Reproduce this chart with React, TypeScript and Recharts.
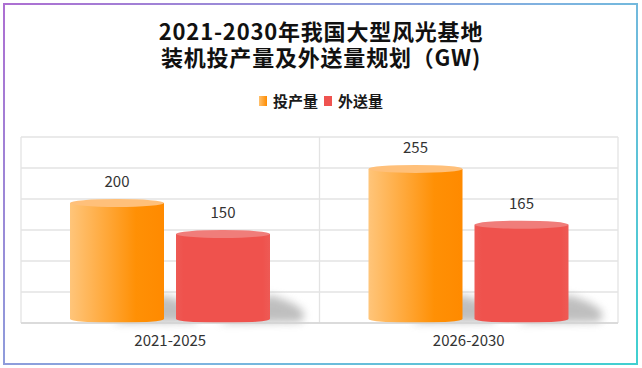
import { BarChart, Bar, XAxis, YAxis, CartesianGrid, LabelList } from 'recharts';

const categories = ['2021-2025', '2026-2030'];
const productionValues = [200, 255];
const exportValues = [150, 165];
const yTicks = [0, 50, 100, 150, 200, 250, 300];

const seriesNames = { production: '投产量', exported: '外送量' };
const titleText = '2021-2030年我国大型风光基地\n装机投产量及外送量规划（GW)';

const data = categories.map((period, i) => ({
    period,
    production: productionValues[i],
    exported: exportValues[i],
}));

const FONT = '"Microsoft YaHei", "Noto Sans CJK SC", "Noto Sans", sans-serif';

// cylinder-ish bar with a soft shadow to the lower right
function Cylinder(props: any) {
    const { x, y, width, height, fill, top } = props;
    if (!height || height <= 0) return null;
    const rx = width / 2;
    const ry = 4;
    const bottom = y + height;
    const cx = x + rx;
    return (
        <g>
            <path
                d={`M${x + width * 0.45},${bottom} L${x + width},${bottom - 28} Q${x + width + 46},${bottom - 14} ${x + width + 30},${bottom - 1} Z`}
                fill="#8a8a8a"
                opacity={0.55}
                filter="url(#shadowBlur)"
            />
            <path
                d={`M${x},${y + ry} L${x},${bottom - ry} A${rx},${ry} 0 0 0 ${x + width},${bottom - ry} L${x + width},${y + ry} Z`}
                fill={fill}
            />
            <ellipse cx={cx} cy={y + ry} rx={rx} ry={ry} fill={top} />
        </g>
    );
}

function LegendRow() {
    const items = [
        { name: seriesNames.production, swatch: 'linear-gradient(90deg, #ffc16e, #ff8c00)' },
        { name: seriesNames.exported, swatch: '#ef5350' },
    ];
    return (
        <div
            style={{
                position: 'absolute',
                left: 0,
                top: 91,
                width: 642,
                display: 'flex',
                justifyContent: 'center',
                alignItems: 'center',
                fontFamily: FONT,
            }}
        >
            {items.map((it) => (
                <div key={it.name} style={{ display: 'flex', alignItems: 'center', margin: '0 3px' }}>
                    <span style={{ display: 'inline-block', width: 8, height: 10, background: it.swatch, marginRight: 6 }} />
                    <span style={{ fontSize: 15, fontWeight: 700, color: '#1a1a1a', lineHeight: '20px' }}>{it.name}</span>
                </div>
            ))}
        </div>
    );
}

export default function App() {
    return (
        <div style={{ position: 'fixed', left: 0, top: 0, width: 642, height: 368, background: '#fff', fontFamily: FONT }}>
            <div
                style={{
                    position: 'absolute',
                    left: 3,
                    top: 3,
                    width: 631,
                    height: 358,
                    border: '2px solid',
                    borderImage: 'linear-gradient(135deg, #ad6fd2, #7fb3e0 55%, #3fd0d0) 1',
                }}
            />
            <div
                style={{
                    position: 'absolute',
                    left: 0,
                    top: 17,
                    width: 642,
                    textAlign: 'center',
                    whiteSpace: 'pre-line',
                    fontSize: 22,
                    letterSpacing: 0.8,
                    fontWeight: 700,
                    lineHeight: '26px',
                    color: '#111',
                }}
            >
                {titleText}
            </div>
            <LegendRow />
            <div style={{ position: 'absolute', left: 0, top: 0 }}>
                <BarChart
                    width={642}
                    height={368}
                    data={data}
                    margin={{ top: 137, right: 24, left: 21, bottom: 15 }}
                    barSize={94}
                    barGap={12}
                >
                    <defs>
                        <linearGradient id="orangeGrad" x1="0" y1="0" x2="1" y2="0">
                            <stop offset="0%" stopColor="#ffc57a" />
                            <stop offset="70%" stopColor="#ff9005" />
                            <stop offset="100%" stopColor="#ff8a00" />
                        </linearGradient>
                        <linearGradient id="redGrad" x1="0" y1="0" x2="1" y2="0">
                            <stop offset="0%" stopColor="#ee5a55" />
                            <stop offset="8%" stopColor="#ef524d" />
                            <stop offset="92%" stopColor="#ef524d" />
                            <stop offset="100%" stopColor="#ee5a55" />
                        </linearGradient>
                        <filter id="shadowBlur" x="-50%" y="-50%" width="200%" height="200%">
                            <feGaussianBlur stdDeviation="4" />
                        </filter>
                    </defs>
                    <CartesianGrid
                        stroke="#e3e3e3"
                        strokeWidth={1.3}
                        verticalCoordinatesGenerator={({ offset }: any) => [
                            offset.left,
                            offset.left + offset.width / 2,
                            offset.left + offset.width,
                        ]}
                    />
                    <XAxis
                        dataKey="period"
                        height={30}
                        tickLine={false}
                        axisLine={{ stroke: '#d6d6d6', strokeWidth: 1.3 }}
                        tick={{ fontSize: 15, fill: '#333', fontFamily: FONT }}
                        tickMargin={6}
                    />
                    <YAxis hide domain={[0, 300]} ticks={yTicks} />
                    <Bar
                        dataKey="production"
                        name={seriesNames.production}
                        fill="url(#orangeGrad)"
                        isAnimationActive={false}
                        shape={(p: any) => <Cylinder {...p} fill="url(#orangeGrad)" top="#ffc07a" />}
                    >
                        <LabelList dataKey="production" position="top" offset={12} style={{ fontSize: 15, fill: '#333', fontFamily: FONT }} />
                    </Bar>
                    <Bar
                        dataKey="exported"
                        name={seriesNames.exported}
                        fill="#ef5350"
                        isAnimationActive={false}
                        shape={(p: any) => <Cylinder {...p} fill="url(#redGrad)" top="#f07d7a" />}
                    >
                        <LabelList dataKey="exported" position="top" offset={12} style={{ fontSize: 15, fill: '#333', fontFamily: FONT }} />
                    </Bar>
                </BarChart>
            </div>
        </div>
    );
}
